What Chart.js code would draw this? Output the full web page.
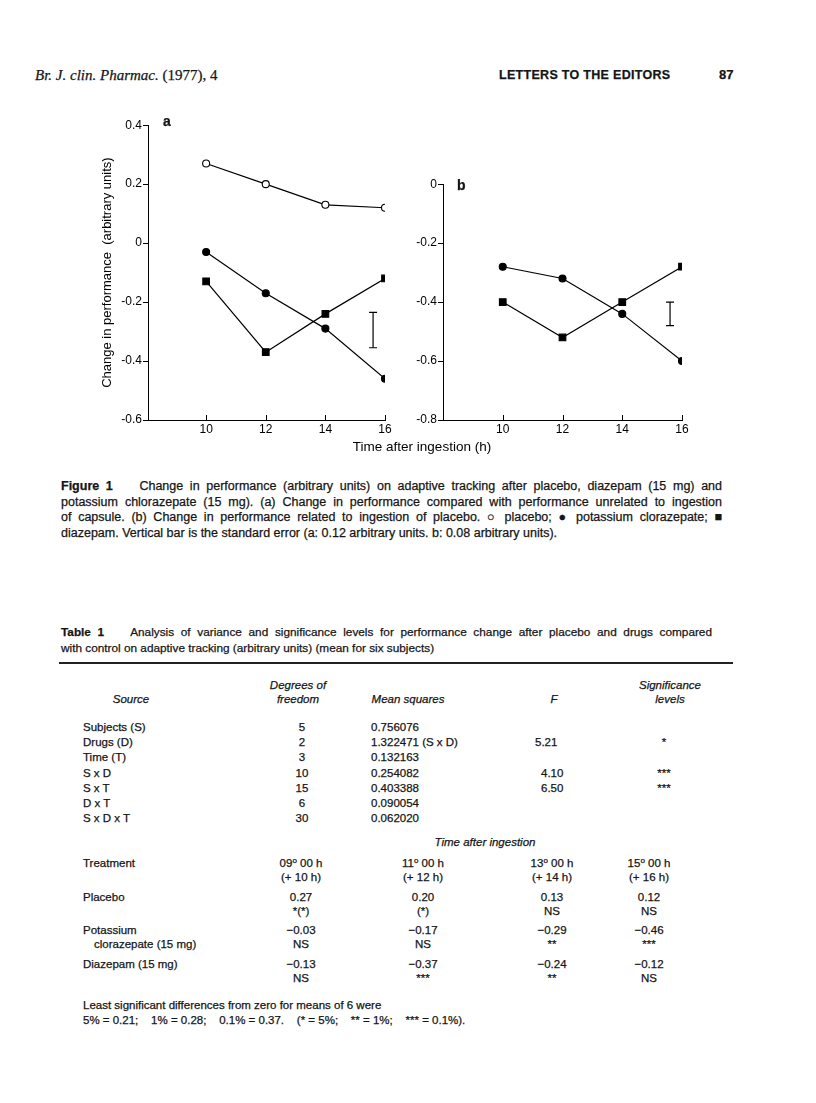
<!DOCTYPE html>
<html>
<head>
<meta charset="utf-8">
<script src="https://cdn.jsdelivr.net/npm/chart.js@4.4.1/dist/chart.umd.min.js"></script>
<style>
  body { margin: 0; background: #fff; }
  #page { position: relative; width: 816px; height: 1103px; overflow: hidden;
          font-family: "Liberation Sans", Arial, sans-serif; color: #151515; }
  canvas { position: absolute; }
  .t { position: absolute; white-space: nowrap; font-size: 11.5px; line-height: 14px;
       -webkit-text-stroke: 0.25px #151515; }
  .line { position: absolute; left: 61px; width: 661px; font-size: 12.5px; line-height: 14px;
          text-align: justify; text-align-last: justify; white-space: normal;
          -webkit-text-stroke: 0.25px #151515; }
  .last { text-align-last: left; }
  .tab { font-size: 11.8px; }
  sup { font-size: 8px; vertical-align: 4px; line-height: 0; }
  #rule { position: absolute; left: 59px; top: 662px; width: 674px; height: 2px; background: #222; }
</style>
</head>
<body>
<div id="page">
  <canvas id="chartA" width="301" height="325" style="left:96px; top:117px;"></canvas>
  <canvas id="chartB" width="291" height="266" style="left:403px; top:176px;"></canvas>
  <div id="rule"></div>
</div>
<script>
// chart values
const hours = [10, 12, 14, 16];
const xTicks = [10, 12, 14, 16];
const placeboA = [0.27, 0.20, 0.13, 0.12];
const clorazepateA = [-0.03, -0.17, -0.29, -0.46];
const diazepamA = [-0.13, -0.37, -0.24, -0.12];
const clorazepateB = [-0.28, -0.32, -0.44, -0.60];
const diazepamB = [-0.40, -0.52, -0.40, -0.28];
const yTicksA = [-0.6, -0.4, -0.2, 0, 0.2, 0.4];
const yTicksB = [-0.8, -0.6, -0.4, -0.2, 0];
const errX = 15.6;
const errA = [-0.235, -0.355];
const errB = [-0.40, -0.48];

const FONT = '"Liberation Sans", Arial, sans-serif';

const pts = (ys) => ys.map((y, i) => ({ x: hours[i], y }));

// x ticks of the figure point upwards, into the plot
const inwardTicks = {
  id: 'inwardTicks',
  afterDraw(chart) {
    const { ctx } = chart;
    const x = chart.scales.x;
    ctx.save();
    ctx.strokeStyle = '#000';
    ctx.lineWidth = 1;
    x.ticks.forEach(t => {
      const px = Math.round(x.getPixelForValue(t.value)) + 0.5;
      ctx.beginPath();
      ctx.moveTo(px, x.top);
      ctx.lineTo(px, x.top - 5);
      ctx.stroke();
    });
    ctx.restore();
  }
};

function series(data, style, fill, radius) {
  return {
    data: data,
    borderColor: '#000',
    borderWidth: 1.2,
    pointStyle: style,
    pointRadius: radius,
    pointBackgroundColor: fill,
    pointBorderColor: '#000',
    pointBorderWidth: 1.1,
    tension: 0
  };
}

function errorBar(lohi) {
  return {
    data: lohi.map(y => ({ x: errX, y })),
    borderColor: '#000',
    borderWidth: 1.2,
    pointStyle: 'line',
    pointRadius: 4,
    pointBorderColor: '#000',
    pointBorderWidth: 1.2
  };
}

function makeChart(id, datasets, xMin, yMin, yMax, yTicks, yWidth, yTitle) {
  new Chart(document.getElementById(id), {
    type: 'line',
    data: { datasets: datasets },
    plugins: [inwardTicks],
    options: {
      responsive: false,
      animation: false,
      devicePixelRatio: 1,
      layout: { padding: { top: 8, right: 12, left: 0, bottom: 0 } },
      plugins: { legend: { display: false }, tooltip: { enabled: false } },
      scales: {
        x: {
          type: 'linear',
          min: xMin,
          max: 16,
          afterBuildTicks(scale) { scale.ticks = xTicks.map(v => ({ value: v })); },
          afterFit(scale) { scale.height = 22; },
          grid: { display: false, drawTicks: false },
          border: { display: true, color: '#000', width: 1 },
          ticks: { color: '#000', padding: 2, font: { family: FONT, size: 12 },
                   callback: v => String(v) }
        },
        y: {
          min: yMin,
          max: yMax,
          afterBuildTicks(scale) { scale.ticks = yTicks.map(v => ({ value: v })); },
          afterFit(scale) { scale.width = yWidth; },
          grid: { drawOnChartArea: false, drawTicks: true, tickLength: 5, color: '#000' },
          border: { display: true, color: '#000', width: 1 },
          title: yTitle ? { display: true, text: yTitle, color: '#000',
                            font: { family: FONT, size: 13 }, padding: { top: 4, bottom: 0 } }
                        : { display: false },
          ticks: { color: '#000', padding: 1, font: { family: FONT, size: 12 },
                   callback: v => v === 0 ? '0' : v.toFixed(1) }
        }
      }
    }
  });
}

makeChart('chartA', [
  series(pts(placeboA), 'circle', '#fff', 3.5),
  series(pts(clorazepateA), 'circle', '#000', 3.5),
  series(pts(diazepamA), 'rect', '#000', 4.7),
  errorBar(errA)
], 8.05, -0.6, 0.4, yTicksA, 52, 'Change in performance  (arbitrary units)');

makeChart('chartB', [
  series(pts(clorazepateB), 'circle', '#000', 3.5),
  series(pts(diazepamB), 'rect', '#000', 4.7),
  errorBar(errB)
], 8.0, -0.8, 0, yTicksB, 40, null);

// page text
const page = document.getElementById('page');
function put(html, x, y, align, style) {
  const d = document.createElement('div');
  d.className = 't';
  d.innerHTML = html;
  d.style.left = x + 'px';
  d.style.top = y + 'px';
  const tx = align === 'c' ? '-50%' : align === 'r' ? '-100%' : '0';
  d.style.transform = 'translate(' + tx + ', -50%)';
  if (style) d.style.cssText += style;
  page.appendChild(d);
}
function lineAt(html, y, cls, width) {
  const d = document.createElement('div');
  d.className = 'line' + (cls ? ' ' + cls : '');
  d.innerHTML = html;
  d.style.top = (y - 7) + 'px';
  if (width) d.style.width = width + 'px';
  page.appendChild(d);
}

put('<i>Br. J. clin. Pharmac.</i> (1977), 4', 35, 75, 'l',
    'font-family:"Liberation Serif", serif; font-size:15px;');
put('LETTERS TO THE EDITORS', 499, 75, 'l', 'font-size:12.5px; font-weight:bold; letter-spacing:0.3px;');
put('87', 719, 75, 'l', 'font-size:13px; font-weight:bold;');

put('a', 163, 121, 'l', 'font-size:14px; font-weight:bold;');
put('b', 457, 185, 'l', 'font-size:14px; font-weight:bold;');
put('Time after ingestion (h)', 422, 447, 'c', 'font-size:13.5px; color:#000; -webkit-text-stroke:0;');

lineAt('<b>Figure 1</b>&nbsp;&nbsp;&nbsp; Change in performance (arbitrary units) on adaptive tracking after placebo, diazepam (15 mg) and', 486);
lineAt('potassium chlorazepate (15 mg). (a) Change in performance compared with performance unrelated to ingestion', 502);
lineAt('of capsule. (b) Change in performance related to ingestion of placebo. &#9675; placebo; &#9679; potassium clorazepate; &#9632;', 517);
lineAt('diazepam. Vertical bar is the standard error (a: 0.12 arbitrary units. b: 0.08 arbitrary units).', 533, 'last');

lineAt('<b>Table 1</b>&nbsp;&nbsp;&nbsp; Analysis of variance and significance levels for performance change after placebo and drugs compared', 632, 'tab', 651);
lineAt('with control on adaptive tracking (arbitrary units) (mean for six subjects)', 648, 'tab last');

const it = 'font-style:italic;';
put('Degrees of', 298, 685, 'c', it);
put('freedom', 298, 699, 'c', it);
put('Source', 131, 699, 'c', it);
put('Mean squares', 408, 699, 'c', it);
put('F', 554, 699, 'c', it);
put('Significance', 670, 685, 'c', it);
put('levels', 670, 699, 'c', it);

const rows = [
  ['Subjects (S)', '5', '0.756076', '', ''],
  ['Drugs (D)', '2', '1.322471 (S x D)', '5.21', '*'],
  ['Time (T)', '3', '0.132163', '', ''],
  ['S x D', '10', '0.254082', '4.10', '***'],
  ['S x T', '15', '0.403388', '6.50', '***'],
  ['D x T', '6', '0.090054', '', ''],
  ['S x D x T', '30', '0.062020', '', '']
];
rows.forEach((r, i) => {
  const y = 727 + i * 15.2;
  put(r[0], 83, y, 'l');
  put(r[1], 302, y, 'c');
  put(r[2], 371, y, 'l');
  if (r[3]) put(r[3], r[3] === '5.21' ? 535 : 541, y, 'l');
  if (r[4]) put(r[4], 664, y, 'c');
});

put('Time after ingestion', 485, 842, 'c', it);
const cols = [301, 423, 552, 649];
const clock = ['09', '11', '13', '15'];
put('Treatment', 83, 863, 'l');
cols.forEach((cx, i) => {
  put(clock[i] + '<sup>o</sup> 00 h', cx, 863, 'c');
  put('(+ ' + hours[i] + ' h)', cx, 877, 'c');
});
const treat = [
  ['Placebo', null, ['0.27', '0.20', '0.13', '0.12'], ['*(*)', '(*)', 'NS', 'NS'], 897],
  ['Potassium', 'clorazepate (15 mg)', ['\u22120.03', '\u22120.17', '\u22120.29', '\u22120.46'], ['NS', 'NS', '**', '***'], 930],
  ['Diazepam (15 mg)', null, ['\u22120.13', '\u22120.37', '\u22120.24', '\u22120.12'], ['NS', '***', '**', 'NS'], 964]
];
treat.forEach(r => {
  put(r[0], 83, r[4], 'l');
  if (r[1]) put(r[1], 94, r[4] + 14, 'l');
  cols.forEach((cx, i) => {
    put(r[2][i], cx, r[4], 'c');
    put(r[3][i], cx, r[4] + 14, 'c');
  });
});

put('Least significant differences from zero for means of 6 were', 83, 1005, 'l');
put('5% = 0.21;&nbsp;&nbsp;&nbsp; 1% = 0.28;&nbsp;&nbsp;&nbsp; 0.1% = 0.37.&nbsp;&nbsp;&nbsp; (* = 5%;&nbsp;&nbsp;&nbsp; ** = 1%;&nbsp;&nbsp;&nbsp; *** = 0.1%).', 83, 1020, 'l');
</script>
</body>
</html>
